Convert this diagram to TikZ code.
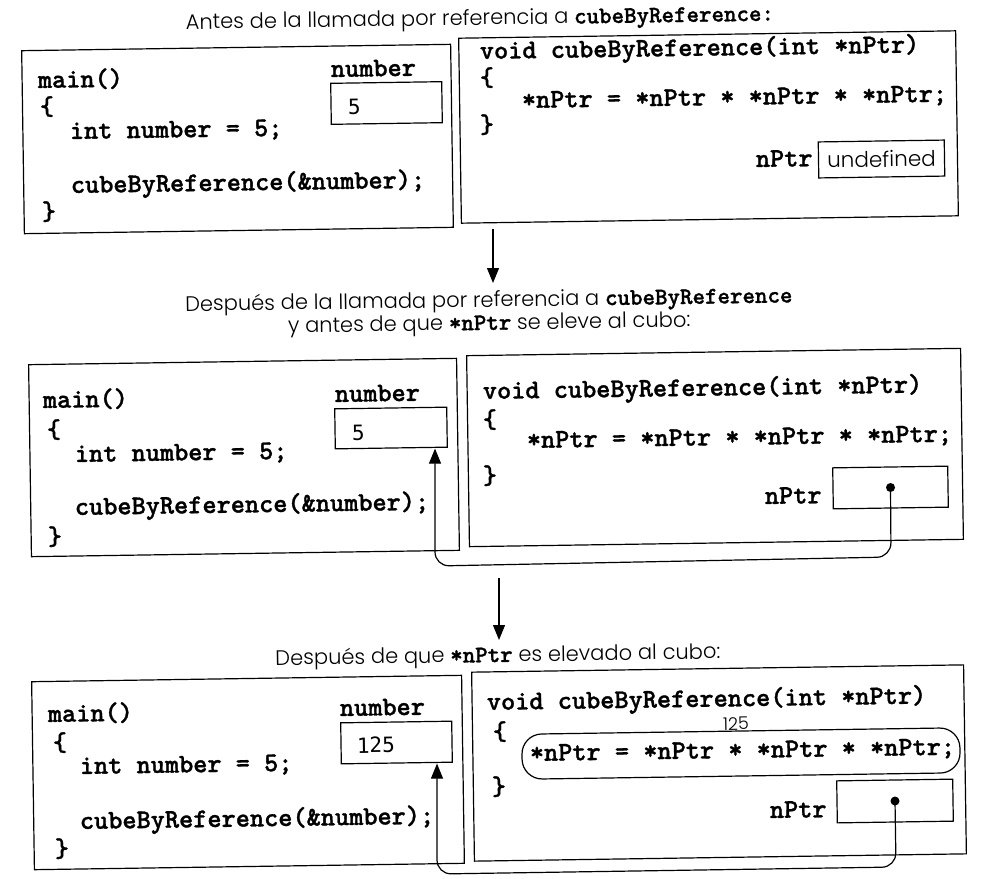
\documentclass[tikz,border=0pt]{standalone}
\usepackage{fontspec}
\IfFontExistsTF{Poppins Light}{\setmainfont{Poppins Light}}{\setmainfont{Poppins}}
\newfontfamily\codeface{lmmonolt10-bold.otf}[FakeBold=1.2]
\newfontfamily\valface{DejaVu Sans Mono}
\usetikzlibrary{arrows.meta}

% inline code inside the captions
\newcommand\tcode[1]{{\codeface\fontsize{23.8}{26}\selectfont #1}}

\tikzset{
  tilt/.style={rotate=0.85},
  code/.style={tilt, anchor=base west, inner sep=0pt, outer sep=0pt,
    font=\codeface\fontsize{27}{30}\selectfont},
  caption/.style={tilt, anchor=base, inner sep=0pt, outer sep=0pt,
    font=\fontsize{21}{23}\selectfont},
  val/.style={tilt, anchor=base west, inner sep=0pt, outer sep=0pt,
    font=\valface\fontsize{21}{25}\selectfont},
  frame/.style={tilt, draw, line width=1.2pt, inner sep=0pt},
  cell/.style={tilt, draw, line width=1.2pt, inner sep=0pt},
  dot/.style={circle, fill, inner sep=0pt, minimum size=9pt},
  tip/.style={-{Triangle[length=15pt,width=12pt]}},
  link/.style={line width=1.2pt, rounded corners=14pt},
  flow/.style={line width=1.2pt},
}

\begin{document}
\begin{tikzpicture}[x=1pt, y=-1pt]
\useasboundingbox (0,0) rectangle (981,878);

% ---------------- stage 1: before the call ----------------
\node[caption] (t1) at (480,25)
  {Antes de la llamada por referencia a \tcode{cubeByReference:}};

\node[frame, minimum width=429pt, minimum height=183pt] (p1L) at (237.5,139) {};
\node[frame, minimum width=497pt, minimum height=185pt] (p1R) at (708.5,127) {};

\node[code] (m1)  at (38,88)  {main()};
\node[code] (o1)  at (40,115) {\{};
\node[code] (d1)  at (70,139) {int number = 5;};
\node[code] (k1)  at (71,193) {cubeByReference(\&number);};
\node[code] (c1)  at (42,220) {\}};
\node[code] (n1)  at (331,77) {number};
\node[cell, minimum width=111pt, minimum height=41pt] (num1) at (386.5,103) {};
\node[val] (v1) at (348,114) {5};

\node[code] (s1)  at (480,59)  {void cubeByReference(int *nPtr)};
\node[code] (fo1) at (480,86)  {\{};
\node[code] (e1)  at (522,108) {*nPtr = *nPtr * *nPtr * *nPtr;};
\node[code] (fc1) at (480,133) {\}};
\node[code] (pl1) at (756,167) {nPtr};
\node[cell, minimum width=126pt, minimum height=36pt,
      font=\fontsize{21.5}{25}\selectfont] (ptr1) at (881.5,159) {undefined};

\coordinate (a1s) at (493,229);
\coordinate (a1e) at (493,283);
\draw[flow, tip] (a1s) -- (a1e);

% ---------------- stage 2: after the call ----------------
\node[caption, anchor=center, align=center] (t2) at (489,313)
  {Después de la llamada por referencia a \tcode{cubeByReference}\\
   y antes de que \tcode{*nPtr} se eleve al cubo:};

\node[frame, minimum width=428pt, minimum height=192pt] (p2L) at (244,457.5) {};
\node[frame, minimum width=494pt, minimum height=191pt] (p2R) at (715,447.5) {};

\node[code] (m2)  at (43,408) {main()};
\node[code] (o2)  at (47,438) {\{};
\node[code] (d2)  at (75,462) {int number = 5;};
\node[code] (k2)  at (75,515) {cubeByReference(\&number);};
\node[code] (c2)  at (48,545) {\}};
\node[code] (n2)  at (335,402) {number};
\node[cell, minimum width=112pt, minimum height=40pt] (num2) at (391,428) {};
\node[val] (v2) at (352,440) {5};

\node[code] (s2)  at (483,399) {void cubeByReference(int *nPtr)};
\node[code] (fo2) at (483,428) {\{};
\node[code] (e2)  at (527,448) {*nPtr = *nPtr * *nPtr * *nPtr;};
\node[code] (fc2) at (483,484) {\}};
\node[code] (pl2) at (765,504) {nPtr};
\node[cell, minimum width=115pt, minimum height=41pt] (ptr2) at (890.5,487.5) {};

\coordinate (b2r) at (891,557);
\coordinate (b2l) at (435,566);
\draw[link, tip] (ptr2.center) -- (b2r) -- (b2l) -- (num2.south -| b2l);
\node[dot] (dt2) at (ptr2.center) {};

\coordinate (a2s) at (499,578);
\coordinate (a2e) at (499,640);
\draw[flow, tip] (a2s) -- (a2e);

% ---------------- stage 3: after cubing ----------------
\node[caption] (t3) at (498,662)
  {Después de que \tcode{*nPtr} es elevado al cubo:};

\node[frame, minimum width=430pt, minimum height=188pt] (p3L) at (248,772.5) {};
\node[frame, minimum width=492pt, minimum height=189pt] (p3R) at (719,763) {};

\node[code] (m3)  at (48,722) {main()};
\node[code] (o3)  at (53,751) {\{};
\node[code] (d3)  at (80,774) {int number = 5;};
\node[code] (k3)  at (80,829) {cubeByReference(\&number);};
\node[code] (c3)  at (55,857) {\}};
\node[code] (n3)  at (340,716) {number};
\node[cell, minimum width=111pt, minimum height=41pt] (num3) at (396.5,742.5) {};
\node[val] (v3) at (357,753) {125};

\node[code] (s3)  at (487,710) {void cubeByReference(int *nPtr)};
\node[caption, font=\fontsize{17.5}{21}\selectfont] (r3) at (736,730) {125};
\node[code] (fo3) at (493,740) {\{};
\node[tilt, draw, line width=1.2pt, rounded corners=20pt,
      minimum width=438pt, minimum height=45pt] (pill) at (741,753.5) {};
\node[code] (e3)  at (530,761) {*nPtr = *nPtr * *nPtr * *nPtr;};
\node[code] (fc3) at (492,795) {\}};
\node[code] (pl3) at (770,818) {nPtr};
\node[cell, minimum width=116pt, minimum height=42pt] (ptr3) at (895,801) {};

\coordinate (b3r) at (896,867);
\coordinate (b3l) at (437,874);
\draw[link, tip] (ptr3.center) -- (b3r) -- (b3l) -- (num3.south -| b3l);
\node[dot] (dt3) at (ptr3.center) {};
\end{tikzpicture}
\end{document}
